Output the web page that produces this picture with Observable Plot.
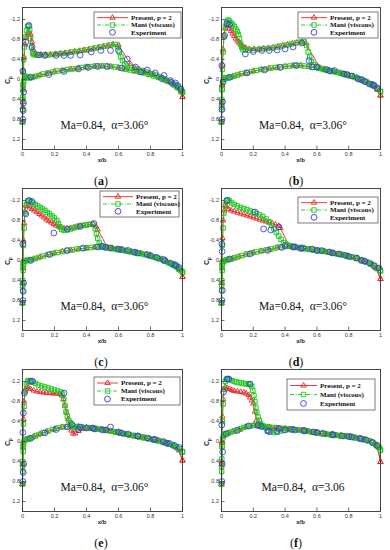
<!DOCTYPE html>
<html><head><meta charset="utf-8">
<script src="https://cdn.jsdelivr.net/npm/d3@7"></script>
<script src="https://cdn.jsdelivr.net/npm/@observablehq/plot@0.6"></script>
<style>
body{margin:0;background:#fff;}
#fig{position:relative;width:390px;height:550px;overflow:hidden;background:#fff;}
.pan{position:absolute;}
.cap{position:absolute;width:60px;text-align:center;font-family:"Liberation Serif",serif;font-size:12px;color:#111;}
</style></head><body><div id="fig"></div>
<script>
// ---------- data (x/b, Cp) ----------
const xTicks = [0, 0.2, 0.4, 0.6, 0.8, 1];
const yTicks = [-1.2, -0.8, -0.4, 0, 0.4, 0.8, 1.2];
const legendLabels = ["Present, p = 2", "Mani (viscous)", "Experiment"];
const panelIds = ["a", "b", "c", "d", "e", "f"];
const notes = ["Ma=0.84,  α=3.06°","Ma=0.84,  α=3.06°","Ma=0.84,  α=3.06°","Ma=0.84,  α=3.06°","Ma=0.84,  α=3.06°","Ma=0.84,  α=3.06"];

// (a)
const aManiUp = [[0,0.85],[0.001,0.6],[0.002,0.35],[0.003,0.1],[0.005,-0.15],[0.008,-0.4],[0.012,-0.65],[0.018,-0.85],[0.025,-0.98],[0.032,-1.06],[0.038,-1.08],[0.045,-1.0],[0.05,-0.82],[0.056,-0.64],[0.063,-0.53],[0.07,-0.5],[0.08,-0.49],[0.1,-0.49],[0.13,-0.49],[0.16,-0.49],[0.19,-0.5],[0.22,-0.51],[0.25,-0.52],[0.28,-0.53],[0.31,-0.55],[0.34,-0.56],[0.37,-0.58],[0.4,-0.59],[0.43,-0.61],[0.46,-0.63],[0.49,-0.65],[0.52,-0.67],[0.55,-0.69],[0.58,-0.7],[0.595,-0.66],[0.605,-0.55],[0.615,-0.45],[0.625,-0.38],[0.64,-0.31],[0.655,-0.27],[0.68,-0.23],[0.71,-0.21],[0.74,-0.18],[0.77,-0.15],[0.8,-0.12],[0.83,-0.09],[0.86,-0.05],[0.89,-0.01],[0.92,0.04],[0.95,0.1],[0.97,0.15],[0.99,0.22],[1,0.26]];
const aManiLo = [[0,0.85],[0.001,0.6],[0.002,0.4],[0.004,0.2],[0.007,0.05],[0.012,-0.03],[0.02,-0.06],[0.03,-0.04],[0.045,-0.03],[0.06,-0.04],[0.08,-0.06],[0.1,-0.08],[0.13,-0.11],[0.16,-0.13],[0.19,-0.15],[0.22,-0.17],[0.25,-0.18],[0.28,-0.2],[0.31,-0.21],[0.34,-0.22],[0.37,-0.24],[0.4,-0.25],[0.43,-0.26],[0.46,-0.27],[0.49,-0.27],[0.52,-0.27],[0.55,-0.26],[0.58,-0.25],[0.61,-0.23],[0.64,-0.21],[0.67,-0.19],[0.7,-0.17],[0.73,-0.15],[0.76,-0.13],[0.79,-0.1],[0.82,-0.07],[0.85,-0.04],[0.88,0.0],[0.91,0.04],[0.94,0.09],[0.96,0.13],[0.98,0.18],[1,0.25]];
const aPresUp = [[0,0.85],[0.001,0.55],[0.003,0.2],[0.006,-0.15],[0.01,-0.45],[0.016,-0.7],[0.024,-0.85],[0.032,-0.92],[0.042,-0.94],[0.052,-0.9],[0.06,-0.75],[0.068,-0.6],[0.078,-0.51],[0.09,-0.5],[0.115,-0.5],[0.145,-0.5],[0.175,-0.5],[0.205,-0.51],[0.235,-0.52],[0.265,-0.53],[0.295,-0.54],[0.325,-0.56],[0.355,-0.57],[0.385,-0.59],[0.415,-0.6],[0.445,-0.62],[0.475,-0.64],[0.505,-0.66],[0.535,-0.68],[0.565,-0.7],[0.6,-0.69],[0.675,-0.31],[0.7,-0.24],[0.73,-0.2],[0.76,-0.17],[0.79,-0.13],[0.82,-0.1],[0.85,-0.06],[0.88,-0.02],[0.91,0.03],[0.94,0.08],[0.97,0.16],[0.99,0.24],[1,0.35]];
const aPresLo = [[0,0.85],[0.002,0.45],[0.005,0.12],[0.01,-0.02],[0.02,-0.05],[0.04,-0.04],[0.07,-0.05],[0.11,-0.09],[0.15,-0.12],[0.2,-0.16],[0.25,-0.18],[0.3,-0.21],[0.35,-0.23],[0.4,-0.25],[0.45,-0.27],[0.5,-0.27],[0.55,-0.26],[0.6,-0.24],[0.65,-0.2],[0.7,-0.17],[0.75,-0.14],[0.8,-0.09],[0.85,-0.04],[0.9,0.03],[0.95,0.12],[0.97,0.17],[0.99,0.24],[1,0.35]];
const aExpUp = [[0.002,-0.17],[0.02,-0.75],[0.04,-1.08],[0.06,-0.65],[0.1,-0.49],[0.14,-0.48],[0.21,-0.48],[0.26,-0.48],[0.3,-0.48],[0.36,-0.49],[0.43,-0.55],[0.49,-0.58],[0.55,-0.58],[0.6,-0.58],[0.655,-0.41],[0.706,-0.25],[0.78,-0.19],[0.83,-0.13],[0.885,-0.08],[0.925,0.02],[0.956,0.07],[0.99,0.19]];
const aExpLo = [[0.003,0.8],[0.004,0.62],[0.006,0.47],[0.008,0.25],[0.05,-0.05],[0.165,-0.1],[0.26,-0.16],[0.35,-0.21],[0.41,-0.24],[0.47,-0.26],[0.53,-0.26],[0.62,-0.23],[0.74,-0.15],[0.87,-0.02],[0.93,0.06],[0.97,0.12]];

// (b)
const bManiUp = [[0,0.85],[0.001,0.55],[0.003,0.2],[0.006,-0.2],[0.01,-0.55],[0.016,-0.85],[0.024,-1.05],[0.032,-1.16],[0.04,-1.19],[0.05,-1.17],[0.06,-1.13],[0.07,-1.1],[0.08,-1.06],[0.09,-1.01],[0.1,-0.96],[0.107,-0.9],[0.113,-0.82],[0.12,-0.72],[0.127,-0.64],[0.135,-0.6],[0.15,-0.59],[0.17,-0.59],[0.2,-0.59],[0.23,-0.6],[0.26,-0.61],[0.29,-0.62],[0.32,-0.63],[0.35,-0.65],[0.38,-0.67],[0.41,-0.69],[0.44,-0.71],[0.47,-0.73],[0.5,-0.75],[0.52,-0.76],[0.535,-0.68],[0.545,-0.55],[0.555,-0.45],[0.565,-0.36],[0.58,-0.3],[0.6,-0.26],[0.63,-0.22],[0.66,-0.19],[0.69,-0.17],[0.72,-0.15],[0.75,-0.12],[0.78,-0.1],[0.81,-0.07],[0.84,-0.04],[0.87,0.0],[0.9,0.04],[0.93,0.08],[0.96,0.13],[0.98,0.18],[1,0.24]];
const bManiLo = [[0,0.85],[0.001,0.6],[0.002,0.4],[0.004,0.2],[0.007,0.06],[0.012,0.0],[0.02,-0.03],[0.03,-0.03],[0.045,-0.04],[0.06,-0.05],[0.08,-0.07],[0.1,-0.09],[0.13,-0.12],[0.16,-0.14],[0.19,-0.16],[0.22,-0.18],[0.25,-0.2],[0.28,-0.21],[0.31,-0.23],[0.34,-0.24],[0.37,-0.25],[0.4,-0.26],[0.43,-0.27],[0.46,-0.28],[0.49,-0.28],[0.52,-0.27],[0.55,-0.26],[0.58,-0.25],[0.61,-0.22],[0.64,-0.2],[0.67,-0.18],[0.7,-0.16],[0.73,-0.14],[0.76,-0.12],[0.79,-0.09],[0.82,-0.07],[0.85,-0.04],[0.88,0.0],[0.91,0.04],[0.94,0.09],[0.96,0.13],[0.98,0.18],[1,0.24]];
const bPresUp = [[0,0.85],[0.001,0.5],[0.003,0.1],[0.006,-0.3],[0.01,-0.6],[0.016,-0.88],[0.024,-1.02],[0.032,-1.1],[0.04,-1.08],[0.05,-1.02],[0.06,-0.97],[0.07,-0.92],[0.08,-0.87],[0.09,-0.82],[0.1,-0.78],[0.11,-0.74],[0.12,-0.7],[0.13,-0.67],[0.14,-0.65],[0.155,-0.63],[0.175,-0.61],[0.205,-0.61],[0.235,-0.61],[0.265,-0.62],[0.295,-0.63],[0.325,-0.64],[0.355,-0.66],[0.385,-0.68],[0.415,-0.7],[0.445,-0.72],[0.475,-0.74],[0.505,-0.75],[0.53,-0.72],[0.62,-0.23],[0.65,-0.2],[0.68,-0.18],[0.71,-0.16],[0.74,-0.13],[0.77,-0.11],[0.8,-0.08],[0.83,-0.05],[0.86,-0.01],[0.89,0.03],[0.92,0.07],[0.95,0.12],[0.98,0.2],[1,0.32]];
const bPresLo = [[0,0.85],[0.002,0.45],[0.005,0.12],[0.01,0.01],[0.02,-0.03],[0.04,-0.04],[0.07,-0.06],[0.11,-0.1],[0.15,-0.13],[0.2,-0.17],[0.25,-0.2],[0.3,-0.22],[0.35,-0.24],[0.4,-0.26],[0.45,-0.28],[0.5,-0.28],[0.55,-0.26],[0.6,-0.23],[0.65,-0.19],[0.7,-0.16],[0.75,-0.13],[0.8,-0.08],[0.85,-0.04],[0.9,0.03],[0.95,0.11],[0.98,0.2],[1,0.32]];
const bExpUp = [[0.002,-0.28],[0.02,-0.88],[0.034,-1.12],[0.05,-1.1],[0.15,-0.51],[0.2,-0.56],[0.254,-0.58],[0.3,-0.58],[0.35,-0.59],[0.4,-0.61],[0.45,-0.65],[0.506,-0.73],[0.55,-0.38],[0.6,-0.25],[0.66,-0.2],[0.71,-0.18],[0.77,-0.11],[0.82,-0.07],[0.86,-0.01],[0.9,0.04],[0.93,0.09],[0.96,0.12],[0.98,0.17]];
const bExpLo = [[0.003,0.8],[0.004,0.6],[0.006,0.45],[0.01,0.05],[0.05,-0.04],[0.16,-0.13],[0.27,-0.19],[0.37,-0.24],[0.47,-0.28],[0.57,-0.25],[0.68,-0.17],[0.79,-0.1],[0.88,0.0],[0.95,0.1]];

// (c)
const cManiUp = [[0,0.85],[0.001,0.5],[0.003,0.1],[0.006,-0.3],[0.01,-0.65],[0.016,-0.95],[0.024,-1.12],[0.032,-1.19],[0.04,-1.2],[0.05,-1.18],[0.065,-1.15],[0.08,-1.12],[0.095,-1.09],[0.11,-1.06],[0.125,-1.03],[0.14,-1.0],[0.155,-0.96],[0.17,-0.93],[0.185,-0.89],[0.2,-0.85],[0.215,-0.8],[0.225,-0.74],[0.235,-0.67],[0.245,-0.62],[0.26,-0.6],[0.28,-0.61],[0.3,-0.63],[0.32,-0.65],[0.34,-0.67],[0.36,-0.69],[0.38,-0.7],[0.4,-0.71],[0.42,-0.72],[0.44,-0.72],[0.455,-0.64],[0.462,-0.54],[0.47,-0.44],[0.48,-0.35],[0.49,-0.3],[0.5,-0.28],[0.53,-0.26],[0.56,-0.24],[0.59,-0.22],[0.62,-0.21],[0.65,-0.19],[0.68,-0.17],[0.71,-0.15],[0.74,-0.14],[0.77,-0.12],[0.8,-0.09],[0.83,-0.06],[0.86,-0.03],[0.89,0.01],[0.92,0.05],[0.95,0.1],[0.97,0.14],[0.99,0.2],[1,0.24]];
const cManiLo = [[0,0.85],[0.001,0.6],[0.002,0.4],[0.004,0.2],[0.007,0.07],[0.012,0.02],[0.02,0.0],[0.03,0.0],[0.045,-0.01],[0.06,-0.02],[0.08,-0.04],[0.1,-0.06],[0.13,-0.09],[0.16,-0.12],[0.19,-0.14],[0.22,-0.16],[0.25,-0.18],[0.28,-0.2],[0.31,-0.21],[0.34,-0.23],[0.37,-0.24],[0.4,-0.25],[0.43,-0.26],[0.46,-0.27],[0.49,-0.27],[0.52,-0.26],[0.55,-0.24],[0.58,-0.23],[0.61,-0.21],[0.64,-0.2],[0.67,-0.18],[0.7,-0.16],[0.73,-0.14],[0.76,-0.12],[0.79,-0.1],[0.82,-0.07],[0.85,-0.04],[0.88,0.0],[0.91,0.04],[0.94,0.08],[0.96,0.12],[0.98,0.17],[1,0.23]];
const cPresUp = [[0,0.85],[0.001,0.45],[0.003,0.0],[0.006,-0.4],[0.01,-0.75],[0.015,-0.98],[0.02,-1.1],[0.03,-1.09],[0.045,-1.06],[0.06,-1.03],[0.075,-1.0],[0.09,-0.97],[0.105,-0.93],[0.12,-0.9],[0.135,-0.86],[0.15,-0.82],[0.165,-0.79],[0.18,-0.76],[0.195,-0.73],[0.21,-0.7],[0.225,-0.68],[0.24,-0.66],[0.26,-0.64],[0.28,-0.64],[0.3,-0.65],[0.32,-0.66],[0.34,-0.68],[0.36,-0.69],[0.38,-0.7],[0.4,-0.71],[0.42,-0.72],[0.44,-0.73],[0.46,-0.68],[0.47,-0.62],[0.53,-0.27],[0.56,-0.25],[0.59,-0.23],[0.62,-0.22],[0.65,-0.2],[0.68,-0.18],[0.71,-0.16],[0.74,-0.14],[0.77,-0.12],[0.8,-0.1],[0.83,-0.07],[0.86,-0.03],[0.89,0.0],[0.92,0.05],[0.95,0.1],[0.98,0.18],[1,0.33]];
const cPresLo = [[0,0.85],[0.002,0.45],[0.005,0.15],[0.01,0.03],[0.02,0.0],[0.04,-0.01],[0.07,-0.03],[0.11,-0.07],[0.15,-0.11],[0.2,-0.15],[0.25,-0.18],[0.3,-0.21],[0.35,-0.23],[0.4,-0.25],[0.45,-0.27],[0.5,-0.27],[0.55,-0.24],[0.6,-0.22],[0.65,-0.19],[0.7,-0.16],[0.75,-0.13],[0.8,-0.09],[0.85,-0.04],[0.9,0.02],[0.95,0.1],[0.98,0.18],[1,0.33]];
const cExpUp = [[0.002,-0.33],[0.02,-0.93],[0.04,-1.2],[0.06,-1.18],[0.196,-0.55],[0.28,-0.63],[0.36,-0.68],[0.446,-0.74],[0.5,-0.28],[0.55,-0.25],[0.6,-0.23],[0.66,-0.2],[0.72,-0.15],[0.78,-0.12],[0.84,-0.06],[0.89,0.0],[0.93,0.06],[0.96,0.1],[0.98,0.14]];
const cExpLo = [[0.003,0.8],[0.005,0.62],[0.007,0.45],[0.05,0.0],[0.17,-0.12],[0.28,-0.2],[0.38,-0.25],[0.47,-0.27],[0.52,-0.26],[0.62,-0.22],[0.7,-0.17],[0.8,-0.1],[0.88,-0.02],[0.95,0.08]];

// (d)
const dManiUp = [[0,0.85],[0.001,0.5],[0.003,0.1],[0.006,-0.3],[0.01,-0.65],[0.016,-0.95],[0.024,-1.12],[0.032,-1.2],[0.04,-1.21],[0.05,-1.19],[0.065,-1.15],[0.08,-1.12],[0.1,-1.09],[0.12,-1.06],[0.14,-1.04],[0.16,-1.02],[0.18,-0.99],[0.2,-0.97],[0.22,-0.94],[0.24,-0.91],[0.26,-0.88],[0.28,-0.83],[0.3,-0.77],[0.315,-0.7],[0.33,-0.63],[0.345,-0.56],[0.36,-0.49],[0.375,-0.42],[0.39,-0.36],[0.41,-0.32],[0.43,-0.3],[0.46,-0.28],[0.49,-0.26],[0.52,-0.24],[0.55,-0.23],[0.58,-0.21],[0.61,-0.2],[0.64,-0.19],[0.67,-0.17],[0.7,-0.15],[0.73,-0.13],[0.76,-0.12],[0.79,-0.1],[0.82,-0.07],[0.85,-0.05],[0.88,-0.01],[0.91,0.03],[0.94,0.07],[0.96,0.11],[0.98,0.16],[1,0.21]];
const dManiLo = [[0,0.85],[0.001,0.6],[0.002,0.4],[0.004,0.2],[0.007,0.07],[0.012,0.02],[0.02,0.0],[0.03,-0.01],[0.045,-0.02],[0.06,-0.03],[0.08,-0.05],[0.1,-0.07],[0.13,-0.1],[0.16,-0.13],[0.19,-0.15],[0.22,-0.17],[0.25,-0.19],[0.28,-0.21],[0.31,-0.23],[0.34,-0.25],[0.37,-0.27],[0.4,-0.28],[0.43,-0.28],[0.46,-0.27],[0.49,-0.25],[0.52,-0.24],[0.55,-0.22],[0.58,-0.21],[0.61,-0.19],[0.64,-0.18],[0.67,-0.17],[0.7,-0.15],[0.73,-0.13],[0.76,-0.11],[0.79,-0.09],[0.82,-0.06],[0.85,-0.04],[0.88,0.0],[0.91,0.03],[0.94,0.07],[0.96,0.11],[0.98,0.15],[1,0.2]];
const dPresUp = [[0,0.85],[0.001,0.45],[0.003,0.0],[0.006,-0.45],[0.01,-0.8],[0.016,-1.0],[0.023,-1.1],[0.03,-1.08],[0.044,-1.03],[0.06,-1.0],[0.08,-0.98],[0.1,-0.96],[0.12,-0.94],[0.14,-0.92],[0.16,-0.9],[0.18,-0.88],[0.2,-0.86],[0.22,-0.84],[0.24,-0.82],[0.26,-0.8],[0.28,-0.78],[0.3,-0.76],[0.32,-0.74],[0.34,-0.72],[0.36,-0.69],[0.37,-0.65],[0.43,-0.27],[0.46,-0.27],[0.49,-0.25],[0.52,-0.24],[0.55,-0.22],[0.58,-0.21],[0.61,-0.2],[0.64,-0.18],[0.67,-0.17],[0.7,-0.15],[0.73,-0.13],[0.76,-0.11],[0.79,-0.09],[0.82,-0.07],[0.85,-0.04],[0.88,-0.01],[0.91,0.03],[0.94,0.08],[0.97,0.15],[1,0.37]];
const dPresLo = [[0,0.85],[0.002,0.45],[0.005,0.15],[0.01,0.03],[0.02,0.0],[0.04,-0.02],[0.07,-0.04],[0.11,-0.08],[0.15,-0.12],[0.2,-0.16],[0.25,-0.19],[0.3,-0.22],[0.35,-0.26],[0.4,-0.28],[0.45,-0.27],[0.5,-0.25],[0.55,-0.22],[0.6,-0.2],[0.65,-0.18],[0.7,-0.15],[0.75,-0.12],[0.8,-0.08],[0.85,-0.04],[0.9,0.02],[0.95,0.09],[0.98,0.17],[1,0.37]];
const dExpUp = [[0.002,-0.33],[0.004,-0.18],[0.034,-1.2],[0.21,-0.97],[0.265,-0.63],[0.31,-0.61],[0.36,-0.67],[0.4,-0.3],[0.46,-0.27],[0.51,-0.25],[0.57,-0.23],[0.63,-0.2],[0.68,-0.17],[0.74,-0.13],[0.8,-0.08],[0.85,-0.05],[0.9,0.01],[0.93,0.05],[0.96,0.1],[0.99,0.15]];
const dExpLo = [[0.003,0.8],[0.005,0.6],[0.05,-0.03],[0.18,-0.13],[0.29,-0.2],[0.38,-0.26],[0.45,-0.27],[0.5,-0.24],[0.6,-0.2],[0.7,-0.15],[0.78,-0.1],[0.88,0.0]];

// (e)
const eManiUp = [[0,0.85],[0.001,0.5],[0.003,0.1],[0.006,-0.35],[0.01,-0.7],[0.016,-1.0],[0.024,-1.15],[0.032,-1.21],[0.04,-1.22],[0.05,-1.21],[0.065,-1.19],[0.08,-1.16],[0.1,-1.13],[0.12,-1.11],[0.14,-1.09],[0.16,-1.07],[0.18,-1.05],[0.2,-1.03],[0.22,-1.01],[0.24,-0.99],[0.25,-0.95],[0.258,-0.85],[0.265,-0.72],[0.272,-0.6],[0.28,-0.5],[0.29,-0.42],[0.3,-0.37],[0.31,-0.32],[0.32,-0.28],[0.34,-0.28],[0.37,-0.28],[0.4,-0.27],[0.43,-0.26],[0.46,-0.25],[0.49,-0.24],[0.52,-0.23],[0.55,-0.21],[0.58,-0.19],[0.61,-0.17],[0.64,-0.15],[0.67,-0.13],[0.7,-0.12],[0.73,-0.1],[0.76,-0.08],[0.79,-0.06],[0.82,-0.04],[0.85,-0.02],[0.88,0.01],[0.91,0.04],[0.94,0.07],[0.96,0.1],[0.98,0.14],[1,0.2]];
const eManiLo = [[0,0.85],[0.001,0.6],[0.002,0.4],[0.004,0.2],[0.007,0.05],[0.012,-0.02],[0.02,-0.04],[0.03,-0.05],[0.045,-0.06],[0.06,-0.08],[0.08,-0.11],[0.1,-0.14],[0.13,-0.18],[0.16,-0.21],[0.19,-0.24],[0.22,-0.27],[0.25,-0.29],[0.28,-0.3],[0.31,-0.31],[0.34,-0.3],[0.37,-0.29],[0.4,-0.28],[0.43,-0.27],[0.46,-0.26],[0.49,-0.25],[0.52,-0.23],[0.55,-0.21],[0.58,-0.19],[0.61,-0.17],[0.64,-0.15],[0.67,-0.13],[0.7,-0.11],[0.73,-0.09],[0.76,-0.07],[0.79,-0.05],[0.82,-0.03],[0.85,-0.01],[0.88,0.02],[0.91,0.05],[0.94,0.08],[0.96,0.11],[0.98,0.15],[1,0.21]];
const ePresUp = [[0,0.85],[0.001,0.45],[0.003,0.0],[0.006,-0.45],[0.01,-0.8],[0.017,-1.02],[0.025,-1.09],[0.035,-1.08],[0.05,-1.05],[0.07,-1.02],[0.09,-1.0],[0.11,-0.99],[0.13,-0.98],[0.15,-0.97],[0.17,-0.97],[0.19,-0.96],[0.21,-0.96],[0.23,-0.95],[0.245,-0.92],[0.255,-0.85],[0.265,-0.72],[0.275,-0.58],[0.285,-0.45],[0.295,-0.33],[0.305,-0.22],[0.315,-0.16],[0.33,-0.16],[0.35,-0.21],[0.37,-0.25],[0.4,-0.26],[0.43,-0.26],[0.46,-0.25],[0.49,-0.24],[0.52,-0.23],[0.55,-0.21],[0.58,-0.19],[0.61,-0.17],[0.64,-0.15],[0.67,-0.13],[0.7,-0.11],[0.73,-0.1],[0.76,-0.08],[0.79,-0.06],[0.82,-0.04],[0.85,-0.02],[0.88,0.01],[0.91,0.04],[0.94,0.08],[0.97,0.14],[1,0.38]];
const ePresLo = [[0,0.85],[0.002,0.45],[0.005,0.12],[0.01,-0.01],[0.02,-0.04],[0.04,-0.06],[0.07,-0.1],[0.11,-0.15],[0.15,-0.2],[0.2,-0.25],[0.25,-0.29],[0.3,-0.31],[0.35,-0.3],[0.4,-0.28],[0.45,-0.26],[0.5,-0.24],[0.55,-0.21],[0.6,-0.18],[0.65,-0.14],[0.7,-0.11],[0.75,-0.08],[0.8,-0.05],[0.85,-0.01],[0.9,0.04],[0.95,0.1],[0.98,0.18],[1,0.38]];
const eExpUp = [[0.002,-0.18],[0.005,-0.57],[0.012,-0.97],[0.05,-1.2],[0.062,-1.21],[0.26,-0.97],[0.31,-0.34],[0.35,-0.24],[0.4,-0.27],[0.45,-0.25],[0.5,-0.23],[0.55,-0.29],[0.6,-0.19],[0.66,-0.15],[0.72,-0.11],[0.78,-0.07],[0.83,-0.04],[0.88,0.0],[0.92,0.04],[0.95,0.08],[0.98,0.12]];
const eExpLo = [[0.003,0.8],[0.005,0.62],[0.007,0.45],[0.05,-0.06],[0.14,-0.17],[0.21,-0.24],[0.28,-0.29],[0.36,-0.29],[0.44,-0.27],[0.52,-0.23],[0.62,-0.17],[0.72,-0.11],[0.82,-0.04],[0.9,0.03]];

// (f)
const fManiUp = [[0,0.85],[0.001,0.5],[0.003,0.1],[0.006,-0.4],[0.01,-0.75],[0.016,-1.05],[0.024,-1.2],[0.032,-1.24],[0.04,-1.25],[0.05,-1.24],[0.065,-1.22],[0.08,-1.2],[0.095,-1.19],[0.11,-1.18],[0.125,-1.17],[0.14,-1.16],[0.155,-1.15],[0.17,-1.15],[0.18,-1.14],[0.19,-1.1],[0.197,-1.02],[0.204,-0.92],[0.21,-0.8],[0.216,-0.68],[0.222,-0.58],[0.23,-0.49],[0.238,-0.42],[0.246,-0.36],[0.255,-0.32],[0.27,-0.28],[0.29,-0.22],[0.31,-0.19],[0.33,-0.18],[0.35,-0.19],[0.37,-0.21],[0.39,-0.23],[0.42,-0.24],[0.45,-0.24],[0.48,-0.23],[0.51,-0.22],[0.54,-0.2],[0.57,-0.19],[0.6,-0.17],[0.63,-0.16],[0.66,-0.14],[0.69,-0.13],[0.72,-0.12],[0.75,-0.11],[0.78,-0.1],[0.81,-0.09],[0.84,-0.07],[0.87,-0.06],[0.9,-0.04],[0.93,-0.01],[0.95,0.02],[0.97,0.06],[0.99,0.12],[1,0.17]];
const fManiLo = [[0,0.85],[0.001,0.6],[0.002,0.35],[0.004,0.1],[0.007,-0.05],[0.012,-0.12],[0.02,-0.15],[0.03,-0.16],[0.045,-0.17],[0.06,-0.19],[0.08,-0.21],[0.1,-0.23],[0.12,-0.25],[0.14,-0.28],[0.16,-0.3],[0.18,-0.31],[0.2,-0.32],[0.22,-0.32],[0.24,-0.32],[0.26,-0.31],[0.28,-0.3],[0.3,-0.29],[0.33,-0.28],[0.36,-0.27],[0.39,-0.26],[0.42,-0.25],[0.45,-0.24],[0.48,-0.23],[0.51,-0.22],[0.54,-0.21],[0.57,-0.19],[0.6,-0.18],[0.63,-0.16],[0.66,-0.15],[0.69,-0.14],[0.72,-0.13],[0.75,-0.12],[0.78,-0.11],[0.81,-0.1],[0.84,-0.08],[0.87,-0.06],[0.9,-0.04],[0.93,-0.01],[0.95,0.02],[0.97,0.06],[0.99,0.12],[1,0.17]];
const fPresUp = [[0,0.85],[0.001,0.45],[0.003,0.0],[0.006,-0.5],[0.01,-0.85],[0.016,-1.03],[0.023,-1.09],[0.035,-1.07],[0.05,-1.05],[0.065,-1.03],[0.08,-1.01],[0.1,-1.0],[0.12,-0.99],[0.14,-0.98],[0.155,-0.96],[0.17,-0.93],[0.18,-0.88],[0.19,-0.82],[0.2,-0.76],[0.21,-0.6],[0.22,-0.42],[0.23,-0.33],[0.24,-0.3],[0.26,-0.29],[0.28,-0.28],[0.3,-0.27],[0.33,-0.26],[0.36,-0.26],[0.39,-0.25],[0.42,-0.25],[0.45,-0.24],[0.48,-0.23],[0.51,-0.22],[0.54,-0.21],[0.57,-0.19],[0.6,-0.18],[0.63,-0.16],[0.66,-0.15],[0.69,-0.14],[0.72,-0.13],[0.75,-0.12],[0.78,-0.11],[0.81,-0.1],[0.84,-0.08],[0.87,-0.06],[0.9,-0.04],[0.93,-0.01],[0.96,0.04],[0.98,0.1],[1,0.41]];
const fPresLo = [[0,0.85],[0.002,0.4],[0.005,0.02],[0.01,-0.1],[0.02,-0.15],[0.04,-0.17],[0.07,-0.2],[0.11,-0.24],[0.15,-0.29],[0.2,-0.32],[0.25,-0.31],[0.3,-0.29],[0.35,-0.27],[0.4,-0.26],[0.45,-0.24],[0.5,-0.22],[0.55,-0.2],[0.6,-0.18],[0.65,-0.15],[0.7,-0.14],[0.75,-0.12],[0.8,-0.1],[0.85,-0.07],[0.9,-0.04],[0.95,0.02],[0.98,0.09],[1,0.41]];
const fExpUp = [[0.002,-0.33],[0.013,-0.99],[0.034,-1.25],[0.045,-1.25],[0.18,-1.15],[0.25,-0.3],[0.3,-0.2],[0.35,-0.2],[0.4,-0.23],[0.46,-0.23],[0.52,-0.21],[0.58,-0.19],[0.64,-0.16],[0.7,-0.13],[0.76,-0.11],[0.82,-0.09],[0.87,-0.06],[0.91,-0.03],[0.95,0.02],[0.98,0.08]];
const fExpLo = [[0.003,0.8],[0.005,0.45],[0.007,0.21],[0.03,-0.15],[0.1,-0.22],[0.17,-0.31],[0.23,-0.32],[0.29,-0.21],[0.36,-0.26],[0.44,-0.24],[0.52,-0.22],[0.6,-0.18],[0.7,-0.14],[0.8,-0.1],[0.88,-0.05]];

// ---------- layout ----------
const RED = "#e62828", GREEN = "#1ec81e", BLUE = "#3434f2";
const W = 195, H = 181;
const colX = [0, 195], rowY = [0, 181, 362];
const mLeft = [22, 26], mRight = [13, 10];
const legendBox = [[94,12,87,26,37],[103,12,80,26,32],[100,10,79,26,36],[103,16,80,26,32],[94,15,86,28,27],[92,17,88,31,33]];

const data = {
  a:[aPresUp,aPresLo,aManiUp,aManiLo,aExpUp,aExpLo],
  b:[bPresUp,bPresLo,bManiUp,bManiLo,bExpUp,bExpLo],
  c:[cPresUp,cPresLo,cManiUp,cManiLo,cExpUp,cExpLo],
  d:[dPresUp,dPresLo,dManiUp,dManiLo,dExpUp,dExpLo],
  e:[ePresUp,ePresLo,eManiUp,eManiLo,eExpUp,eExpLo],
  f:[fPresUp,fPresLo,fManiUp,fManiLo,fExpUp,fExpLo]
};

const fig = document.getElementById("fig");
const X = d => d[0], Y = d => d[1];
const rTri = 2.0, rSq = 2.5, rCirc = 2.9;

panelIds.forEach((id, i) => {
  const col = i % 2, row = Math.floor(i / 2);
  const [pu, pl, mu, ml, eu, el] = data[id];
  const mL = mLeft[col], mR = mRight[col], mT = 7, mB = 32;
  const fw = W - mL - mR, fh = H - mT - mB;
  const presLine = [...pu.slice().reverse(), ...pl];
  const maniLine = [...mu.slice().reverse(), ...ml];
  const svg = Plot.plot({
    width: W, height: H, marginLeft: mL, marginRight: mR, marginTop: mT, marginBottom: mB,
    style: {fontFamily: "Liberation Sans, sans-serif", fontSize: "5.5px", background: "transparent", overflow: "visible", color: "#333"},
    x: {domain: [0, 1]},
    y: {domain: [-1.44, 1.4], reverse: true},
    marks: [
      Plot.line(presLine, {x: X, y: Y, stroke: RED, strokeWidth: 0.9}),
      Plot.dot([...pu, ...pl], {x: X, y: Y, symbol: "triangle", r: rTri, stroke: RED, fill: "none", strokeWidth: 0.9}),
      Plot.line(maniLine, {x: X, y: Y, stroke: GREEN, strokeWidth: 0.9, strokeDasharray: "4,1.5,1,1.5"}),
      Plot.dot([...mu, ...ml], {x: X, y: Y, symbol: "square", r: rSq, stroke: GREEN, fill: "none", strokeWidth: 1.0}),
      Plot.dot([...eu, ...el], {x: X, y: Y, symbol: "circle", r: rCirc, stroke: BLUE, fill: "none", strokeWidth: 0.85}),
      Plot.tickY(yTicks, {y: d => d, stroke: "#333", strokeWidth: 0.7, insetRight: fw - 3.5}),
      Plot.tickX(xTicks, {x: d => d, stroke: "#333", strokeWidth: 0.7, insetTop: fh - 3.5}),
      Plot.axisY({ticks: yTicks, tickSize: 0, tickPadding: 2.5, tickFormat: d => String(d), label: null}),
      Plot.axisX({ticks: xTicks, tickSize: 0, tickPadding: 2.5, tickFormat: d => String(d), label: null}),
      Plot.frame({stroke: "#333", strokeWidth: 0.9}),
      Plot.text([notes[i]], {text: d => d, frameAnchor: "bottom", dy: -21, dx: 2, fontFamily: "Liberation Serif, serif", fontSize: 11.5, fill: "#111"})
    ]
  });
  const s = d3.select(svg);
  const yl = s.append("text").attr("transform", `translate(${mL - 12},${mT + fh * 0.515}) rotate(-90)`)
    .attr("text-anchor", "middle").attr("font-size", 7).attr("font-weight", "bold").attr("fill", "#222").attr("font-family", "Liberation Sans, sans-serif");
  yl.append("tspan").text("C");
  yl.append("tspan").attr("font-size", 4.5).attr("dy", 1.8).text("p");
  s.append("text").attr("x", mL + fw / 2).attr("y", mT + fh + 13).attr("text-anchor", "middle")
    .attr("font-size", 6).attr("font-weight", "bold").attr("fill", "#222").attr("font-family", "Liberation Sans, sans-serif").text("x/b");
  // legend
  const [L, T, LW, LH, tx] = legendBox[i];
  const g = s.append("g").attr("text-anchor", "start");
  g.append("rect").attr("x", L).attr("y", T).attr("width", LW).attr("height", LH).attr("fill", "#fff").attr("stroke", "#444").attr("stroke-width", 0.7);
  const styles = [
    {stroke: RED, dash: null, sym: d3.symbolTriangle, size: Math.PI * rTri * rTri},
    {stroke: GREEN, dash: "4,1.5,1,1.5", sym: d3.symbolSquare, size: Math.PI * rSq * rSq},
    {stroke: BLUE, dash: "none", sym: d3.symbolCircle, size: Math.PI * rCirc * rCirc}
  ];
  const step = (LH - 4) / 3;
  legendLabels.forEach((lab, k) => {
    const yy = T + 2 + step * (k + 0.5);
    const st = styles[k];
    if (k < 2) {
      const ln = g.append("line").attr("x1", L + 3).attr("x2", L + tx - 3).attr("y1", yy).attr("y2", yy).attr("stroke", st.stroke).attr("stroke-width", 0.9);
      if (st.dash) ln.attr("stroke-dasharray", st.dash);
    }
    g.append("path").attr("d", d3.symbol(st.sym, st.size)()).attr("transform", `translate(${L + tx / 2},${yy})`)
      .attr("fill", "none").attr("stroke", st.stroke).attr("stroke-width", 0.9);
    g.append("text").attr("x", L + tx).attr("y", yy + 2.3).attr("font-size", 7).attr("font-weight", "bold")
      .attr("font-family", "Liberation Serif, serif").attr("fill", "#111").text(lab);
  });
  svg.classList.add("pan");
  svg.style.left = colX[col] + "px";
  svg.style.top = rowY[row] + "px";
  fig.appendChild(svg);
  const cap = document.createElement("div");
  cap.className = "cap";
  cap.style.left = (colX[col] + 71) + "px";
  cap.style.top = (rowY[row] + 174) + "px";
  cap.innerHTML = `(<b>${id}</b>)`;
  fig.appendChild(cap);
});
</script>
</body></html>
